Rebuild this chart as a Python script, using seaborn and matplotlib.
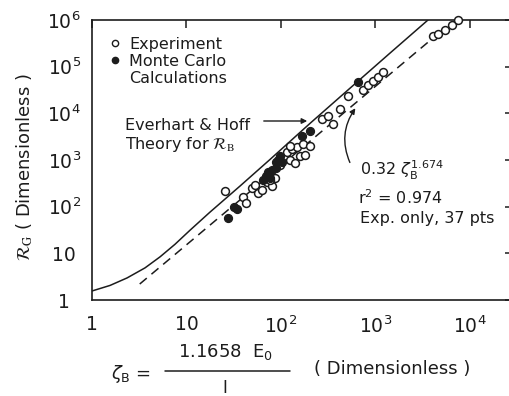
import matplotlib
matplotlib.use("Agg")
import matplotlib.pyplot as plt
from matplotlib.lines import Line2D
import seaborn as sns

# experiment points (open circles)
exp_zeta = [25.5, 39.6, 42.6, 49.3, 53, 57, 63, 71, 80, 86,
            116, 131, 148, 124, 141, 159, 180, 97.6, 124, 171,
            203, 272, 314, 355, 421, 512, 738, 833, 941, 1063,
            1200, 4060, 4590, 5430, 6450, 7470, 76.5]
exp_rg = [221, 164, 122, 256, 297, 200, 232, 345, 283, 421,
          1520, 1680, 1860, 1020, 880, 1190, 1310, 800, 1950, 2150,
          1950, 7430, 8620, 5800, 12200, 23200, 31200, 40000, 48800, 59500,
          76200, 460000, 507000, 620000, 789000, 1.0e6, 380]

# Monte Carlo calculations (filled circles)
mc_zeta = [27.5, 31.8, 34.2, 64.5, 69.4, 76.5, 72.8, 80.3, 88.5, 93,
           97.6, 102, 88.5, 167, 203, 653]
mc_rg = [58, 100, 91, 380, 464, 421, 566, 625, 690, 1024,
         1189, 884, 884, 3200, 4100, 46400]

# Everhart & Hoff theory (solid curve)
eh_zeta = [1.0, 1.55, 2.35, 3.64, 5.25, 7.55, 10.9, 17.7, 36.8, 76.5,
           203, 537, 1423, 3594]
eh_rg = [1.56, 2.05, 2.97, 4.88, 8.41, 15.6, 31.3, 76.2, 276, 1026,
         6100, 34500, 195000, 1.0e6]

# fit 0.32 zeta^1.674 (dashed), ends of the drawn line
fit_zeta = [3.2, 4000]
fit_rg = [2.2, 4.0e5]

x_ticks = [1, 10, 100, 1000, 10000]
x_labels = ['1', '10', '$10^2$', '$10^3$', '$10^4$']
y_ticks = [1, 10, 1e2, 1e3, 1e4, 1e5, 1e6]
y_labels = ['1', '10', '$10^2$', '$10^3$', '$10^4$', '$10^5$', '$10^6$']

W, H = 509, 396
ink = '#1c1c1c'

sns.set_theme(style='white')
plt.rcParams['font.family'] = ['DejaVu Sans']
plt.rcParams['text.color'] = ink


def fpos(x, y):
    # reference pixel (top-left origin) -> figure fraction
    return (x / W, 1 - y / H)


fig = plt.figure(figsize=(W / 100, H / 100), dpi=100)
ax = fig.add_axes([92 / W, 96 / H, 420.5 / W, 280 / H])
ax.set_xscale('log')
ax.set_yscale('log')

sns.lineplot(x=eh_zeta, y=eh_rg, sort=False, estimator=None, color=ink,
             lw=1.1, ax=ax)
sns.lineplot(x=fit_zeta, y=fit_rg, sort=False, estimator=None, color=ink,
             lw=1.1, dashes=False, ax=ax)
ax.lines[-1].set_dashes([6, 4])
sns.scatterplot(x=exp_zeta, y=exp_rg, marker='o', s=32, color='white',
                edgecolor=ink, linewidth=1.1, ax=ax, zorder=3, clip_on=False)
sns.scatterplot(x=mc_zeta, y=mc_rg, marker='o', s=32, color=ink,
                edgecolor=ink, linewidth=1.0, ax=ax, zorder=4)

ax.set_xlim(1, 10 ** 4.45)
ax.set_ylim(1, 1e6)
ax.set_xticks(x_ticks, labels=x_labels)
ax.set_yticks(y_ticks, labels=y_labels)
ax.minorticks_off()
ax.tick_params(which='both', direction='in', length=6, width=1.1, color=ink,
               top=True, right=True, labelsize=13.5, labelcolor=ink)
ax.tick_params(axis='x', pad=11)
ax.tick_params(axis='y', pad=20)
for lab in ax.get_yticklabels():
    lab.set_ha('center')
for sp in ax.spines.values():
    sp.set_color(ink)
    sp.set_linewidth(1.2)

ax.set_ylabel(r'$\mathcal{R}_{\mathrm{G}}$ ( Dimensionless )', fontsize=13,
              math_fontfamily='stix', color=ink)
ax.yaxis.set_label_coords(-(92 - 35) / 420.5, (300 - 167) / 280)

# x axis label built from pieces
fig.text(*fpos(111, 374), r'$\zeta_{\mathrm{B}}$ =', fontsize=13,
         ha='left', va='center')
fig.text(*fpos(226, 352), r'1.1658  E$_{\mathrm{0}}$', fontsize=13,
         ha='center', va='center')
fig.add_artist(Line2D([165 / W, 290 / W], [1 - 371 / H, 1 - 371 / H],
                      color=ink, lw=1.1))
fig.text(*fpos(225, 379), 'I', fontsize=12, ha='center', va='top')
fig.text(*fpos(392, 369), '( Dimensionless )', fontsize=13,
         ha='center', va='center')

# legend
handles = [Line2D([], [], ls='none', marker='o', ms=4.5, mfc='white',
                  mec=ink, mew=1.0),
           Line2D([], [], ls='none', marker='o', ms=4.5, mfc=ink, mec=ink),
           Line2D([], [], ls='none', marker=None)]
ax.legend(handles, ['Experiment', 'Monte Carlo', 'Calculations'],
          loc='upper left', bbox_to_anchor=fpos(110, 37),
          bbox_transform=fig.transFigure, frameon=False, fontsize=11.5,
          handlelength=0.6, handletextpad=0.6, labelspacing=0.12,
          borderpad=0, borderaxespad=0)

# annotations
fig.text(*fpos(125, 130), 'Everhart & Hoff', fontsize=11.5, ha='left',
         va='baseline')
fig.text(*fpos(125, 149), r'Theory for $\mathcal{R}_{\mathrm{B}}$',
         fontsize=11.5, ha='left', va='baseline', math_fontfamily='stix')
ax.annotate('', xy=fpos(310, 121), xytext=fpos(261, 121),
            xycoords='figure fraction', textcoords='figure fraction',
            arrowprops=dict(arrowstyle='-|>', color=ink, lw=1.0,
                            mutation_scale=8))
ax.annotate('', xy=fpos(357, 106), xytext=fpos(351, 165),
            xycoords='figure fraction', textcoords='figure fraction',
            arrowprops=dict(arrowstyle='-|>', color=ink, lw=1.0,
                            mutation_scale=8,
                            connectionstyle='arc3,rad=-0.3'))
fig.text(*fpos(360, 176), r'0.32 $\zeta_{\mathrm{B}}^{\mathrm{1.674}}$',
         fontsize=11.5, ha='left', va='baseline')
fig.text(*fpos(358, 204), r'r$^{2}$ = 0.974', fontsize=11.5, ha='left',
         va='baseline')
fig.text(*fpos(360, 223), 'Exp. only, 37 pts', fontsize=11.5, ha='left',
         va='baseline')

fig.savefig('out.png', dpi=100)
